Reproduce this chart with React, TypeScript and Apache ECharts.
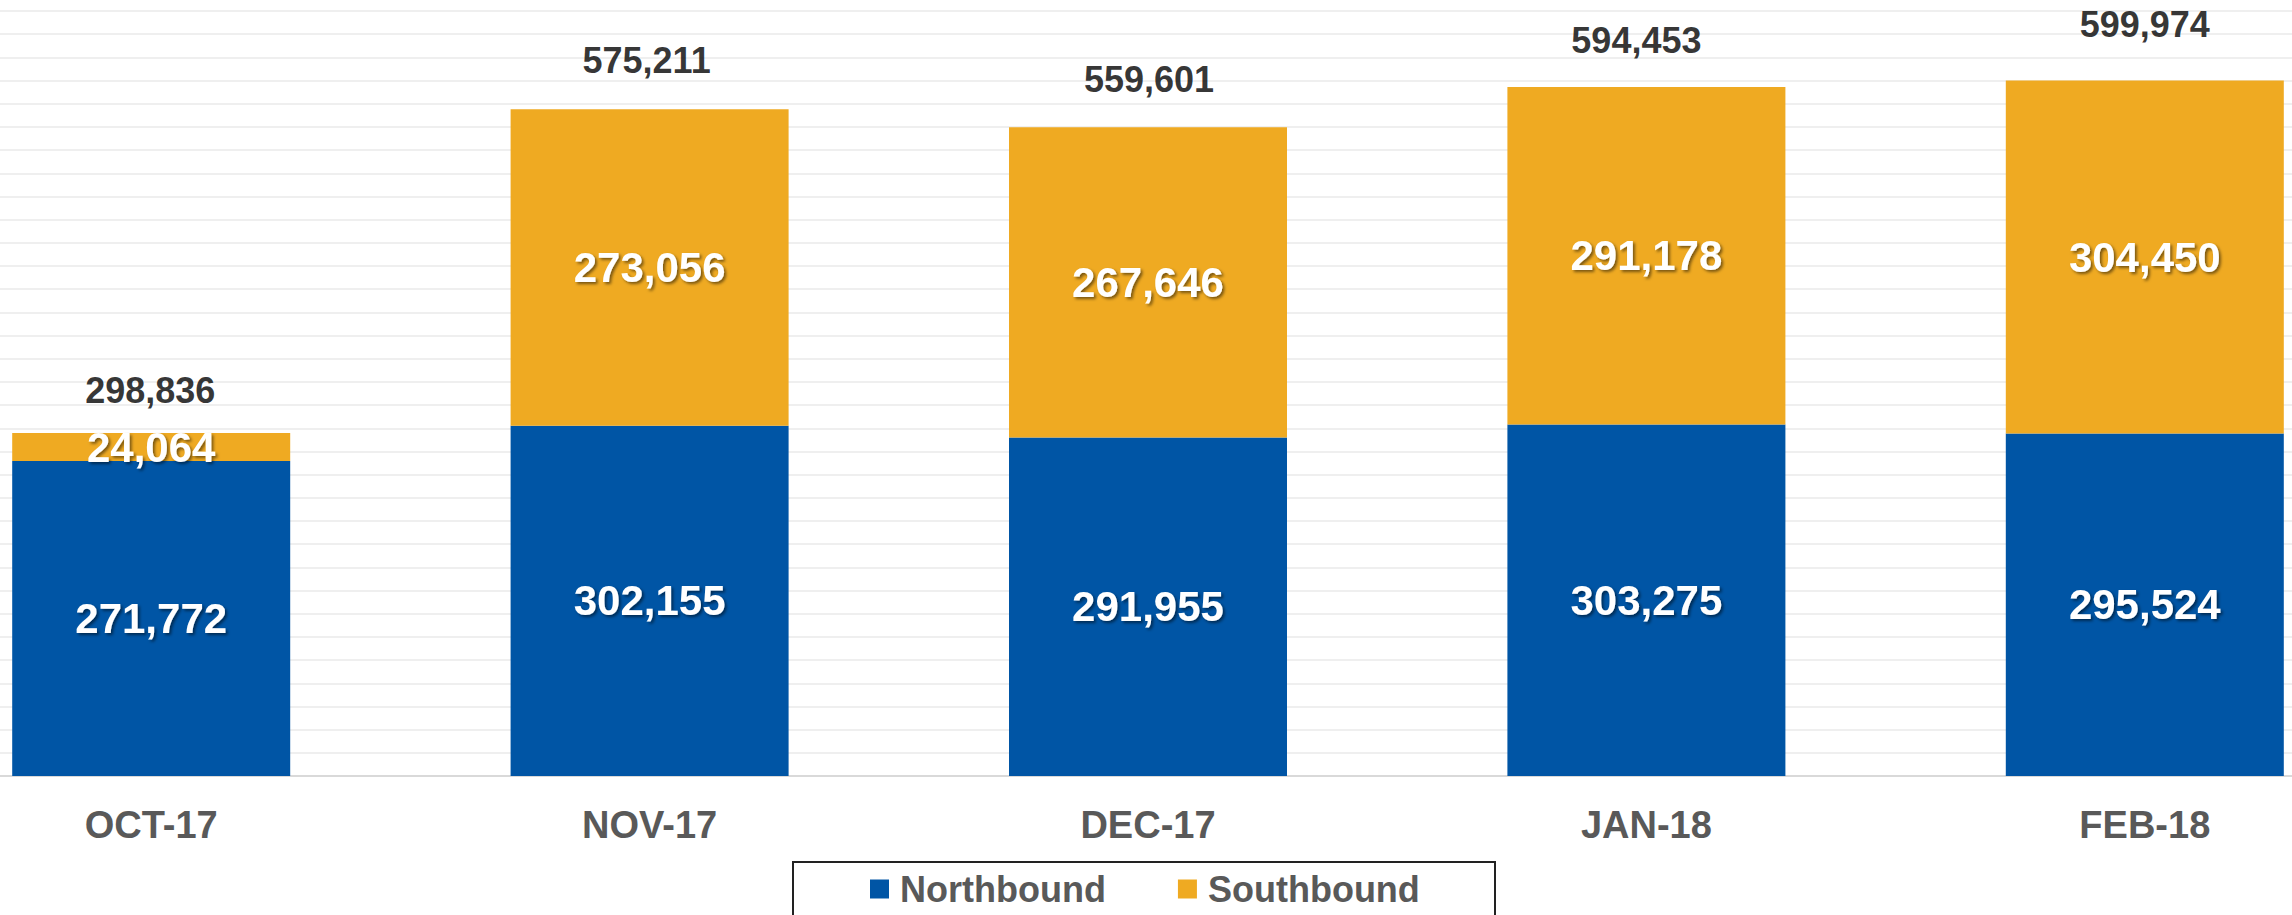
import React, { useEffect, useRef } from "react";
import * as echarts from "echarts";

const categories = ["OCT-17", "NOV-17", "DEC-17", "JAN-18", "FEB-18"];
const northbound = [271772, 302155, 291955, 303275, 295524];
const southbound = [24064, 273056, 267646, 291178, 304450];
const totalLabels = ["298,836", "575,211", "559,601", "594,453", "599,974"];

// styling only: manual nudges of the total labels
const totalGap = [42, 48, 47, 46, 56];
const totalDx = [-1, -3, 1, -10, 0];

const FONT = 'Arial, "Liberation Sans", Helvetica, sans-serif';
const BLUE = "#0055A5";
const ORANGE = "#EFAA22";
const SHIFT = 98; // chart canvas extends beyond the visible frame on the left
const EXTRA_RIGHT = 102;

const fmt = (v: number) => v.toLocaleString("en-US");

export default function App() {
  const ref = useRef<HTMLDivElement>(null);
  useEffect(() => {
    if (!ref.current) return;
    const chart = echarts.init(ref.current, null, { renderer: "svg" });
    const stackTops = northbound.map((n, i) => n + southbound[i]);
    const innerLabel = {
      show: true,
      position: "inside",
      color: "#ffffff",
      fontFamily: FONT,
      fontWeight: "bold",
      fontSize: 42,
      textShadowColor: "rgba(0,0,0,0.5)",
      textShadowBlur: 3,
      textShadowOffsetX: 2,
      textShadowOffsetY: 2,
      formatter: (p: any) => fmt(p.value),
    };
    chart.setOption({
      animation: false,
      backgroundColor: "#ffffff",
      grid: { left: 0, right: 0, top: 11, bottom: 139 },
      xAxis: {
        type: "category",
        data: categories,
        axisLine: { show: true, lineStyle: { color: "#d9d9d9", width: 2 } },
        axisTick: { show: false },
        axisLabel: {
          margin: 30,
          color: "#595959",
          fontFamily: FONT,
          fontWeight: "bold",
          fontSize: 38,
        },
      },
      yAxis: {
        type: "value",
        min: 0,
        max: 660000,
        interval: 20000,
        axisLabel: { show: false },
        axisLine: { show: false },
        axisTick: { show: false },
        splitLine: { show: true, lineStyle: { color: "#efefef", width: 2 } },
      },
      legend: {
        data: ["Northbound", "Southbound"],
        left: 870 + SHIFT,
        top: 871,
        padding: 0,
        itemWidth: 19,
        itemHeight: 19,
        itemGap: 72,
        icon: "rect",
        textStyle: {
          color: "#595959",
          fontFamily: FONT,
          fontWeight: "bold",
          fontSize: 36,
          padding: [0, 0, 0, 6],
        },
      },
      graphic: [
        {
          type: "rect",
          shape: { x: 793 + SHIFT, y: 862, width: 702, height: 80 },
          style: { fill: "none", stroke: "#222222", lineWidth: 2 },
          silent: true,
        },
      ],
      series: [
        {
          name: "Northbound",
          type: "bar",
          stack: "total",
          barWidth: 278,
          itemStyle: { color: BLUE },
          label: innerLabel,
          data: northbound,
        },
        {
          name: "Southbound",
          type: "bar",
          stack: "total",
          barWidth: 278,
          itemStyle: { color: ORANGE },
          label: innerLabel,
          data: southbound,
        },
        {
          name: "Total",
          type: "scatter",
          symbolSize: 1,
          itemStyle: { color: "rgba(0,0,0,0)" },
          silent: true,
          data: stackTops.map((v, i) => ({
            value: v,
            label: {
              show: true,
              position: "top",
              distance: totalGap[i] - 18,
              offset: [totalDx[i], 0],
              formatter: totalLabels[i],
              color: "#000000",
              fontFamily: FONT,
              fontWeight: "bold",
              fontSize: 36,
            },
          })),
        },
      ],
    });
    return () => chart.dispose();
  }, []);
  return (
    <div
      style={{
        position: "absolute",
        left: 0,
        top: 0,
        width: 2292,
        height: 915,
        overflow: "hidden",
        background: "#ffffff",
      }}
    >
      <div
        ref={ref}
        style={{
          position: "absolute",
          left: -SHIFT,
          top: 0,
          width: 2292 + SHIFT + EXTRA_RIGHT,
          height: 915,
        }}
      />
    </div>
  );
}
